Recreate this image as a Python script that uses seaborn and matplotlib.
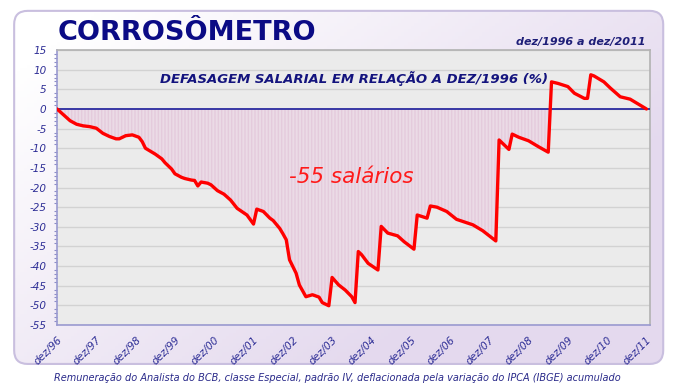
import numpy as np
import pandas as pd
import seaborn as sns
import matplotlib
matplotlib.use('Agg')
import matplotlib.pyplot as plt
from matplotlib.patches import FancyBboxPatch

# months counted from dez/1996 (0) to dez/2011 (180)
months = [0, 2, 4, 6, 8, 10, 12, 14, 16, 18, 19, 21, 23, 25, 26, 27, 29, 30, 32, 33,
          35, 36, 38, 39, 41, 42, 43, 44, 46, 47, 49, 51, 53, 55, 58, 60, 61, 63, 65, 66,
          68, 69, 70, 71, 73, 74, 76, 78, 80, 81, 83, 84, 86, 88, 90, 91, 92, 93, 95, 98,
          99, 101, 104, 106, 109, 110, 113, 114, 116, 119, 122, 127, 130, 134, 135, 138, 139, 141, 144, 147,
          150, 151, 153, 156, 158, 161, 162, 163, 164, 167, 169, 172, 175, 177, 180]
defasagem = [0, -1.5, -3.0, -3.9, -4.3, -4.5, -4.9, -6.2, -7.0, -7.6, -7.6, -6.8, -6.6, -7.2, -8.3, -10.0, -11.0, -11.5, -12.7, -13.7,
             -15.3, -16.5, -17.4, -17.7, -18.1, -18.2, -19.6, -18.6, -18.9, -19.3, -20.8, -21.7, -23.2, -25.3, -27.0, -29.3, -25.5, -26.1, -27.8, -28.4,
             -30.4, -31.8, -33.3, -38.4, -41.8, -44.8, -47.8, -47.3, -47.9, -49.3, -50.1, -42.9, -44.8, -46.1, -47.8, -49.3, -36.3, -37.1, -39.3, -41.0,
             -29.9, -31.6, -32.3, -33.8, -35.7, -27.0, -27.8, -24.7, -25.0, -26.1, -28.1, -29.5, -31.0, -33.6, -7.9, -10.3, -6.4, -7.2, -8.1, -9.6,
             -11.0, 6.9, 6.5, 5.7, 4.0, 2.7, 2.7, 8.7, 8.4, 6.9, 5.3, 3.1, 2.5, 1.5, 0]
tick_months = list(range(0, 181, 12))
tick_labels = ['dez/96', 'dez/97', 'dez/98', 'dez/99', 'dez/00', 'dez/01', 'dez/02', 'dez/03',
               'dez/04', 'dez/05', 'dez/06', 'dez/07', 'dez/08', 'dez/09', 'dez/10', 'dez/11']

df = pd.DataFrame({'mes': months, 'defasagem': defasagem})

sns.set_theme(style='white')
plt.rcParams['font.family'] = ['DejaVu Sans']

navy = '#14147e'
tick_col = '#2e2e96'

fig = plt.figure(figsize=(6.74, 3.88), dpi=100)
fig.patch.set_facecolor('white')

# background panel with soft gradient
bg = fig.add_axes([0, 0, 1, 1], zorder=-5)
bg.set_xlim(0, 1)
bg.set_ylim(0, 1)
bg.axis('off')
gx, gy = np.meshgrid(np.linspace(0, 1, 200), np.linspace(1, 0, 120))
t = np.clip(gx * 0.9 + (1 - gy) * 0.7 - 0.15, 0, 1)
c0 = np.array([1.0, 1.0, 1.0])
c1 = np.array(matplotlib.colors.to_rgb('#e4d9ee'))
img = c0 + (c1 - c0) * t[..., None]
box = FancyBboxPatch((0.021, 0.062), 0.963, 0.91, boxstyle='round,pad=0,rounding_size=0.02',
                     transform=bg.transAxes, facecolor='none', edgecolor='#c9bfdf', linewidth=1.5,
                     mutation_aspect=674 / 388)
im = bg.imshow(img, extent=[0, 1, 0, 1], aspect='auto', origin='upper')
im.set_clip_path(box)
bg.add_patch(box)

ax = fig.add_axes([0.0846, 0.1624, 0.8794, 0.7086])
ax.set_facecolor('#ebebeb')

x = np.array(months, dtype=float)
y = np.array(defasagem)
ax.fill_between(x, y, 0, where=y <= 0, interpolate=True, facecolor='#ebdbe6',
                edgecolor='#e4cbdc', hatch='|||||', linewidth=0, zorder=1)
sns.lineplot(data=df, x='mes', y='defasagem', color='#ff0000', linewidth=2.4, ax=ax, zorder=4)
ax.axhline(0, color='#2a2aa0', linewidth=1.3, zorder=3)

ax.set_xlim(0, 181)
ax.set_ylim(-55, 15)
ax.set_yticks(range(-55, 16, 5))
ax.set_yticks(range(-55, 16, 1), minor=True)
ax.grid(axis='y', which='major', color='#d2d2d2', linewidth=1, zorder=0)
ax.set_axisbelow(True)
ax.set_xticks(tick_months)
ax.set_xticklabels(tick_labels, rotation=45, ha='right', va='top', rotation_mode='anchor',
                   fontsize=7.5, style='italic', color=tick_col)
ax.set_yticklabels([str(v) for v in range(-55, 16, 5)], fontsize=7.5, style='italic', color=tick_col)
ax.tick_params(axis='both', which='both', direction='out', colors='#8c8cc8', labelcolor=tick_col)
ax.tick_params(axis='y', which='major', length=4, width=1)
ax.tick_params(axis='y', which='minor', length=2.5, width=0.8, left=True)
ax.tick_params(axis='x', which='major', length=4, width=1, pad=3)
ax.set_xlabel('')
ax.set_ylabel('')
for s in ['top', 'right']:
    ax.spines[s].set_color('#b4b4b4')
for s in ['left', 'bottom']:
    ax.spines[s].set_color('#9a9ad0')
    ax.spines[s].set_linewidth(1.2)

fig.text(0.085, 0.897, 'CORROSÔMETRO', fontsize=19.5, fontweight='bold', color='#0b0b85')
fig.text(0.957, 0.885, 'dez/1996 a dez/2011', fontsize=8, fontweight='bold', style='italic',
         color='#1e1e78', ha='right')
ax.text(0.501, 0.895, 'DEFASAGEM SALARIAL EM RELAÇÃO A DEZ/1996 (%)', transform=ax.transAxes,
        fontsize=9.5, fontweight='bold', style='italic', color=navy, ha='center', va='center')
ax.text(0.497, 0.538, '-55 salários', transform=ax.transAxes, fontsize=15.5, style='italic',
        color='#ff1a1a', ha='center', va='center')
fig.text(0.5, 0.026, 'Remuneração do Analista do BCB, classe Especial, padrão IV, deflacionada pela variação do IPCA (IBGE) acumulado',
         fontsize=7, style='italic', color='#2a2a8a', ha='center', va='center')

fig.savefig('out.png', dpi=100)
